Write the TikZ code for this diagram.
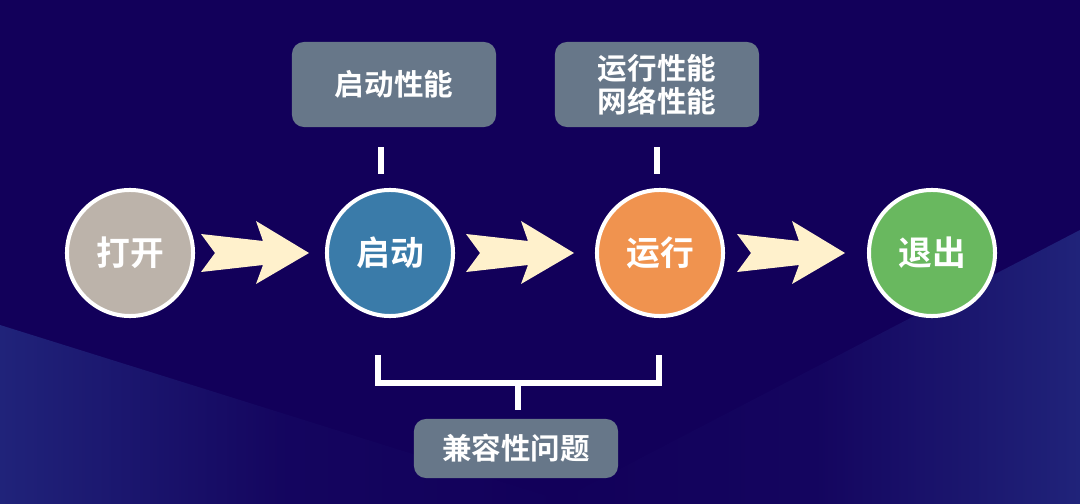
\documentclass[tikz,border=0pt]{standalone}
\usepackage{fontspec}
\setmainfont{Noto Sans CJK SC}[BoldFont={Noto Sans CJK SC Bold}]
\usetikzlibrary{shapes,arrows,positioning,calc}
\usepackage{xcolor}
\definecolor{bgnavy}{HTML}{12005A}
\definecolor{bglight}{HTML}{20237A}
\definecolor{dakaic}{HTML}{BCB3AA}
\definecolor{qidongc}{HTML}{3A7BA9}
\definecolor{yunxingc}{HTML}{F0934F}
\definecolor{tuichuc}{HTML}{69B85F}
\definecolor{boxgray}{HTML}{677789}
\definecolor{cream}{HTML}{FFF1CC}

\begin{document}
\begin{tikzpicture}[x=0.025cm, y=-0.025cm,
    quan/.style={circle, draw=white, line width=2.85pt, minimum size=3.15cm, inner sep=0pt,
        text=white, font=\fontsize{24}{28}\selectfont\bfseries},
    kuang/.style={rounded corners=0.3cm, fill=boxgray, text=white, minimum width=5.1cm,
        inner sep=0pt, align=center, font=\fontsize{21}{23.5}\selectfont\bfseries},
    xian/.style={white, line width=4pt}]
    % 背景
    \useasboundingbox (0,0) rectangle (1080,504);
    \fill[bgnavy] (0,0) rectangle (1080,504);
    \shade[left color=bglight, right color=bgnavy, middle color=bgnavy!85!bglight] (0,325) -- (573,504) -- (0,504) -- cycle;
    \shade[left color=bgnavy, right color=bglight, middle color=bgnavy!85!bglight] (1080,230) -- (552,504) -- (1080,504) -- cycle;

    % 流程
    \node[quan, fill=dakaic] (dakai) at (130,253) {打开};
    \node[quan, fill=qidongc] (qidong) at (390,253) {启动};
    \node[quan, fill=yunxingc] (yunxing) at (660,253) {运行};
    \node[quan, fill=tuichuc] (tuichu) at (932,253) {退出};

    % 箭头
    \foreach \a/\b in {dakai/qidong, qidong/yunxing, yunxing/tuichu} {
        \coordinate (m) at ($(\a)!0.5!(\b)$);
        \fill[cream, shift={(m)}] (-59,-19) -- (-45,0) -- (-59,19) -- (3,12) -- (-4,31)
            -- (49,0) -- (-4,-32) -- (3,-12) -- cycle;
    }

    % 说明
    \node[kuang, minimum height=2.125cm] (qdxn) at (394,84.5) {启动性能};
    \node[kuang, minimum height=2.125cm] (yxxn) at (657,84.5) {运行性能\\网络性能};
    \node[kuang, minimum height=1.475cm] (jianrong) at (516,448.5) {兼容性问题};

    \draw[xian] ($(qdxn.south)+(-13,20)$) -- ++(0,27);
    \draw[xian] ($(yxxn.south)+(0,20)$) -- ++(0,27);
    \draw[xian] (378,355) -- (378,383) -- (659,383) -- (659,355);
    \draw[xian] ($(jianrong.north)+(2,-36)$) -- ++(0,27);
\end{tikzpicture}
\end{document}
